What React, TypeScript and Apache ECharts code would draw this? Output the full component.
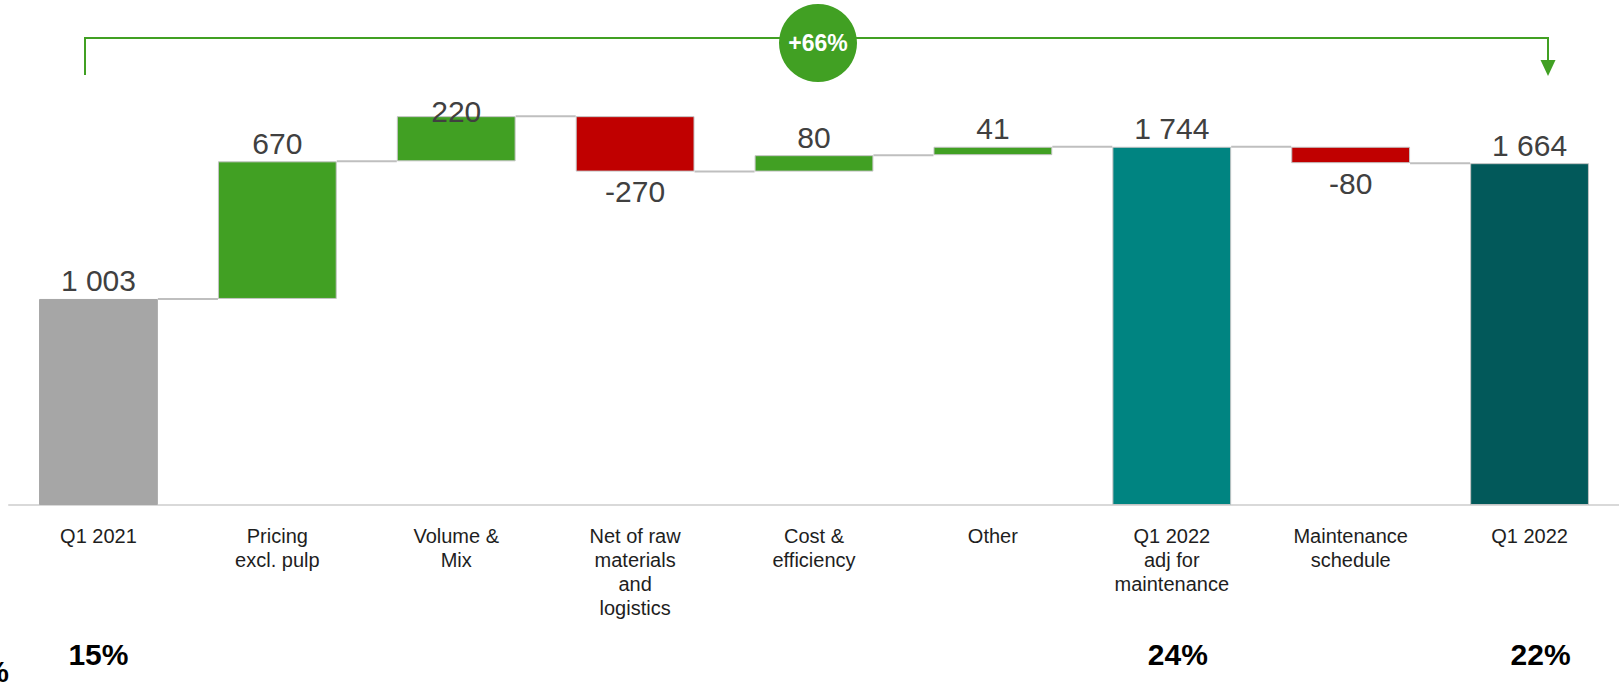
import React, { useEffect, useRef } from "react";
import * as echarts from "echarts";

const categories = [
  "Q1 2021",
  "Pricing\nexcl. pulp",
  "Volume &\nMix",
  "Net of raw\nmaterials\nand\nlogistics",
  "Cost &\nefficiency",
  "Other",
  "Q1 2022\nadj for\nmaintenance",
  "Maintenance\nschedule",
  "Q1 2022",
];
// signed change for steps, level for totals
const values = [1003, 670, 220, -270, 80, 41, 1744, -80, 1664];
const kinds = ["total", "inc", "inc", "dec", "inc", "inc", "total", "dec", "total"];
const margins = ["15%", "", "", "", "", "", "24%", "", "22%"];
const totalColors = ["#a6a6a6", "", "", "", "", "", "#008481", "", "#02595a"];
const bracketLabel = "+66%";

const GREEN = "#41a023";
const RED = "#c00000";
const FONT = "'Liberation Sans', Arial, sans-serif";

function fmt(v: number): string {
  const s = String(Math.abs(v)).replace(/\B(?=(\d{3})+(?!\d))/g, " ");
  return v < 0 ? "-" + s : s;
}

export default function App() {
  const ref = useRef<HTMLDivElement>(null);
  useEffect(() => {
    if (!ref.current) return;
    const chart = echarts.init(ref.current, null, { renderer: "svg" });

    // waterfall geometry from data
    const bases: number[] = [];
    const heights: number[] = [];
    const levels: number[] = [];
    let run = 0;
    values.forEach((v, i) => {
      if (kinds[i] === "total") {
        bases.push(0);
        heights.push(v);
        run = v;
      } else if (v >= 0) {
        bases.push(run);
        heights.push(v);
        run += v;
      } else {
        run += v;
        bases.push(run);
        heights.push(-v);
      }
      levels.push(run);
    });

    const barData = heights.map((h, i) => {
      const k = kinds[i];
      const color = k === "total" ? totalColors[i] : k === "inc" ? GREEN : RED;
      const item: any = {
        value: h,
        itemStyle: {
          color,
          borderColor: i === 0 ? color : "#c4c4c4",
          borderWidth: 1,
        },
        label: {
          position: k === "dec" ? "bottom" : "top",
          distance: k === "dec" ? 5 : 3,
        },
      };
      if (i === 2) item.label.offset = [0, 13];
      return item;
    });

    const connectorData = levels.slice(0, levels.length - 1).map((l, i) => [i, l]);

    const pctStyle = { fontSize: 30, fontWeight: "bold", color: "#000", fontFamily: FONT };

    chart.setOption({
      animation: false,
      grid: { left: 9, right: -3, top: 12, bottom: 180 },
      xAxis: [
        {
          type: "category",
          data: categories,
          axisLine: { show: true, lineStyle: { color: "#d9d9d9", width: 2 } },
          axisTick: { show: false },
          axisLabel: {
            interval: 0,
            fontSize: 20,
            lineHeight: 24,
            color: "#1e1e1e",
            margin: 19,
            fontFamily: FONT,
          },
        },
        {
          type: "category",
          data: categories,
          position: "bottom",
          offset: 134,
          axisLine: { show: false },
          axisTick: { show: false },
          axisLabel: {
            interval: 0,
            margin: 0,
            ...pctStyle,
            formatter: (_v: string, i: number) => {
              if (!margins[i]) return "";
              const key = i === 0 ? "a" : i === 6 ? "b" : "c";
              return `{${key}|${margins[i]}}`;
            },
            rich: {
              a: { ...pctStyle, padding: [0, 0, 0, 0] },
              b: { ...pctStyle, padding: [0, 0, 0, 12] },
              c: { ...pctStyle, padding: [0, 0, 0, 22] },
            },
          },
        },
      ],
      yAxis: { type: "value", min: 0, max: 2400, show: false, splitLine: { show: false } },
      series: [
        {
          type: "custom",
          xAxisIndex: 0,
          data: connectorData,
          z: 1,
          renderItem: (_p: any, api: any) => {
            const i = api.value(0);
            const l = api.value(1);
            const p1 = api.coord([i, l]);
            const p2 = api.coord([i + 1, l]);
            const half = (api.size([1, 0])[0] * 0.664) / 2;
            return {
              type: "line",
              shape: { x1: p1[0] + half, y1: p1[1], x2: p2[0] - half, y2: p2[1] },
              style: { stroke: "#bfbfbf", lineWidth: 2 },
            };
          },
        },
        {
          type: "bar",
          stack: "wf",
          xAxisIndex: 0,
          barWidth: "66.4%",
          data: bases,
          itemStyle: { color: "transparent" },
          emphasis: { disabled: true },
          silent: true,
          z: 2,
        },
        {
          type: "bar",
          stack: "wf",
          xAxisIndex: 0,
          barWidth: "66.4%",
          data: barData,
          z: 3,
          label: {
            show: true,
            fontSize: 30,
            color: "#404040",
            fontFamily: FONT,
            formatter: (p: any) => fmt(values[p.dataIndex]),
          },
        },
      ],
      graphic: [
        {
          type: "polyline",
          shape: { points: [[85, 75], [85, 38], [1548, 38], [1548, 62]] },
          style: { stroke: GREEN, lineWidth: 2, fill: "none" },
        },
        {
          type: "polygon",
          shape: { points: [[1540.5, 60], [1555.5, 60], [1548, 76]] },
          style: { fill: GREEN },
        },
        {
          type: "circle",
          shape: { cx: 818, cy: 43, r: 39 },
          style: { fill: GREEN },
        },
        {
          type: "text",
          x: 818,
          y: 43,
          style: {
            text: bracketLabel,
            fill: "#fff",
            font: `bold 23px ${FONT}`,
            textAlign: "center",
            textVerticalAlign: "middle",
          },
        },
        {
          type: "text",
          x: 9,
          y: 656,
          style: {
            text: "%",
            fill: "#000",
            font: `bold 30px ${FONT}`,
            textAlign: "right",
            textVerticalAlign: "top",
          },
        },
      ],
    });
    return () => chart.dispose();
  }, []);
  return (
    <div
      ref={ref}
      style={{ position: "absolute", left: 0, top: 0, width: "1619px", height: "685px" }}
    />
  );
}
